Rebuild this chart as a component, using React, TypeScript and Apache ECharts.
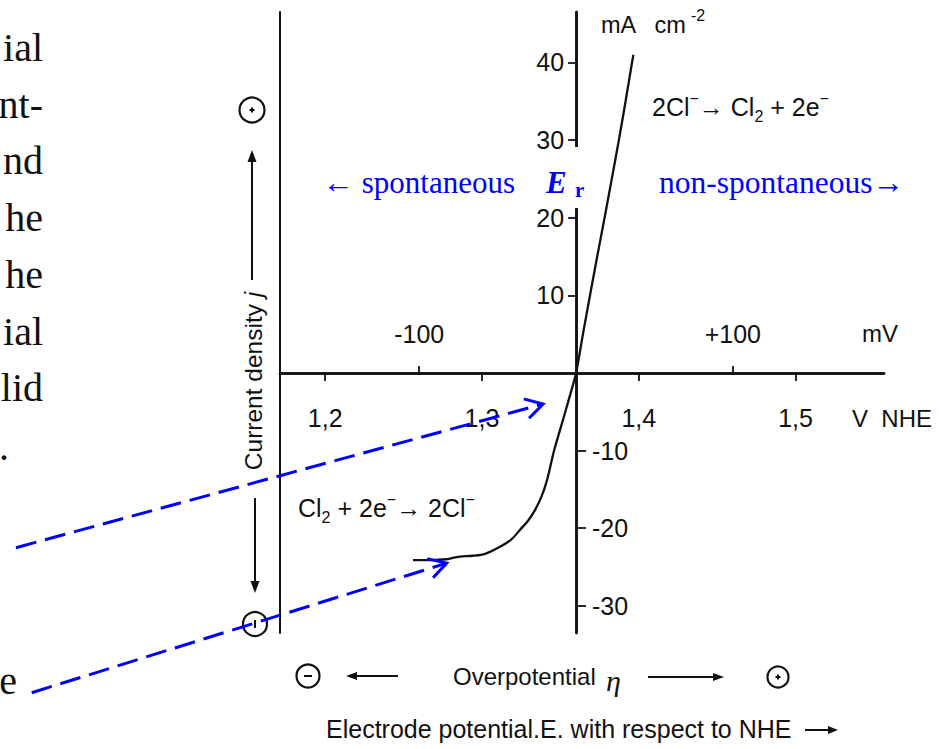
import React, { useEffect, useRef } from "react";
import * as echarts from "echarts";

// ---------- Data ----------
// Overpotential η (mV) and current density j (mA cm⁻²) along the Cl2/Cl⁻ polarisation curve
const overpotentialMV = [-104, -92, -83, -78, -74, -66, -58, -48.5, -41, -35.7, -30.5, -26, -22, -18.5, -14, -10, -5, 0, 4.4, 8.9, 13.5, 18.2, 22.8, 27.3, 31.6, 35.7, 36.6];
const currentDensity = [-24.1, -24.1, -24.0, -23.8, -23.65, -23.55, -23.3, -22.4, -21.4, -20.2, -19.0, -17.6, -15.9, -13.8, -10.0, -7.2, -3.7, 0, 5, 10, 15, 20, 25, 30, 35, 40, 41];

const reversiblePotentialV = 1.36; // E_r of Cl2/Cl⁻ vs NHE
const mvTicks = [-100, 100];
const voltTicks = [1.2, 1.3, 1.4, 1.5];
const positiveJTicks = [10, 20, 30, 40];
const negativeJTicks = [-10, -20, -30];
const mvRange = [-188.8, 196.4];
const jRange = [-33.5, 46.5];
// blue arrow targets (mV, mA cm⁻²)
const erArrowTarget = [-21, -4];
const limitArrowTarget = [-82.5, -24.5];
// fragments of the slide text cut off at the left edge
const sideTextLines = ["ial", "nt-", "nd", "he", "he", "ial", "lid"];

const FIG = "'Liberation Sans', Arial, Helvetica, sans-serif";
const SERIF = "'Liberation Serif', 'Times New Roman', serif";
const BLUE = "#0000ff";
const BLACK = "#111111";

const W = 945, H = 749;
const GRID = { left: 280, right: 61, top: 12, bottom: 116 };

const labelStyle = { color: BLACK, fontFamily: FIG, fontSize: 25 };

function buildOption(): any {
  const plotW = W - GRID.left - GRID.right;
  const plotH = H - GRID.top - GRID.bottom;
  const zeroX = GRID.left + ((0 - mvRange[0]) / (mvRange[1] - mvRange[0])) * plotW;
  const zeroY = GRID.top + ((jRange[1] - 0) / (jRange[1] - jRange[0])) * plotH;
  const vMin = reversiblePotentialV + mvRange[0] / 1000;
  const vMax = reversiblePotentialV + mvRange[1] / 1000;
  const lineStyle = { color: BLACK, width: 2.5 };
  const tickStyle = { color: BLACK, width: 1.8 };
  return {
    animation: false,
    grid: { ...GRID, containLabel: false, outerBoundsMode: "none" },
    xAxis: [
      {
        type: "value", position: "top", min: mvRange[0], max: mvRange[1],
        offset: GRID.top - zeroY,
        axisLine: { show: true, onZero: false, lineStyle },
        axisTick: { show: true, customValues: mvTicks, length: 7, lineStyle: tickStyle },
        axisLabel: {
          customValues: mvTicks, margin: 26,
          formatter: (v: number) => (v > 0 ? "+" + v : "-" + Math.abs(v)),
          ...labelStyle,
        },
        splitLine: { show: false },
      },
      {
        type: "value", position: "bottom", min: vMin, max: vMax,
        offset: zeroY - (GRID.top + plotH),
        axisLine: { show: true, onZero: false, lineStyle },
        axisTick: { show: true, customValues: voltTicks, length: 8, lineStyle: tickStyle },
        axisLabel: {
          customValues: voltTicks, margin: 33,
          formatter: (v: number) => v.toFixed(1).replace(".", ","),
          ...labelStyle,
        },
        splitLine: { show: false },
      },
    ],
    yAxis: [
      {
        type: "value", position: "left", min: jRange[0], max: jRange[1],
        offset: GRID.left - zeroX,
        axisLine: { show: true, onZero: false, lineStyle },
        axisTick: { show: true, customValues: positiveJTicks, length: 8, lineStyle: tickStyle },
        axisLabel: { customValues: positiveJTicks, margin: 12, ...labelStyle },
        splitLine: { show: false },
      },
      {
        type: "value", position: "right", min: jRange[0], max: jRange[1],
        offset: zeroX - (GRID.left + plotW),
        axisLine: { show: true, onZero: false, lineStyle },
        axisTick: { show: true, customValues: negativeJTicks, length: 10, lineStyle: tickStyle },
        axisLabel: {
          customValues: negativeJTicks, margin: 16,
          formatter: (v: number) => "-" + Math.abs(v),
          ...labelStyle,
        },
        splitLine: { show: false },
      },
      {
        type: "value", position: "left", min: jRange[0], max: jRange[1],
        offset: 0,
        axisLine: { show: true, onZero: false, lineStyle: { color: BLACK, width: 2 } },
        axisTick: { show: false },
        axisLabel: { show: false },
        splitLine: { show: false },
      },
    ],
    series: [
      {
        type: "line",
        xAxisIndex: 0,
        yAxisIndex: 0,
        data: overpotentialMV.map((x, i) => [x, currentDensity[i]]),
        symbol: "none",
        showSymbol: false,
        smooth: 0.3,
        silent: true,
        lineStyle: { color: BLACK, width: 2.3 },
      },
    ],
  };
}

function txt(x: number, y: number, text: string, style: any = {}, extra: any = {}) {
  const align = style.align || "left";
  const va = style.verticalAlign || "middle";
  return {
    type: "text", x, y, z: 10, ...extra,
    style: {
      text, fill: BLACK, fontFamily: FIG, fontSize: 24,
      ...style,
      align, textAlign: align, verticalAlign: va, textVerticalAlign: va,
    },
  };
}

function seg(x1: number, y1: number, x2: number, y2: number, color = BLACK, width = 2, dash?: number[]) {
  return {
    type: "line", z: 10,
    shape: { x1, y1, x2, y2 },
    style: { stroke: color, lineWidth: width, lineDash: dash || null, fill: null },
  };
}

function arrow(x1: number, y1: number, x2: number, y2: number, headLen = 11, half = 4, width = 2) {
  const dx = x2 - x1, dy = y2 - y1, L = Math.hypot(dx, dy);
  const ux = dx / L, uy = dy / L;
  const bx = x2 - ux * headLen, by = y2 - uy * headLen;
  return [
    seg(x1, y1, bx + ux * 2, by + uy * 2, BLACK, width),
    {
      type: "polygon", z: 10,
      shape: { points: [[x2, y2], [bx - uy * half, by + ux * half], [bx + uy * half, by - ux * half]] },
      style: { fill: BLACK },
    },
  ];
}

function blueArrow(x1: number, y1: number, x2: number, y2: number) {
  const dx = x2 - x1, dy = y2 - y1, L = Math.hypot(dx, dy);
  const bx = -dx / L, by = -dy / L;
  const len = 20, c = Math.cos(Math.PI / 6), s = Math.sin(Math.PI / 6);
  const w1 = [x2 + len * (bx * c - by * s), y2 + len * (bx * s + by * c)];
  const w2 = [x2 + len * (bx * c + by * s), y2 + len * (-bx * s + by * c)];
  return [
    seg(x1, y1, x2, y2, BLUE, 3, [21, 9]),
    {
      type: "polyline", z: 11,
      shape: { points: [w1, [x2, y2], w2] },
      style: { stroke: BLUE, lineWidth: 3, fill: null },
    },
  ];
}

function circled(cx: number, cy: number, r: number, sign: "+" | "-" | "|") {
  const els: any[] = [
    { type: "circle", z: 10, shape: { cx, cy, r }, style: { stroke: BLACK, lineWidth: 2.2, fill: null } },
  ];
  if (sign === "+") {
    els.push(seg(cx - 2.5, cy, cx + 2.5, cy, BLACK, 2));
    els.push(seg(cx, cy - 2.5, cx, cy + 2.5, BLACK, 2));
  } else if (sign === "-") {
    els.push(seg(cx - 4, cy, cx + 4, cy, BLACK, 2));
  } else {
    els.push(seg(cx, cy - 4, cx, cy + 4, BLACK, 2));
  }
  return els;
}

export default function App() {
  const ref = useRef<HTMLDivElement>(null);
  useEffect(() => {
    if (!ref.current) return;
    const chart = echarts.init(ref.current, null, { renderer: "svg" });
    chart.setOption(buildOption());
    const finder = { xAxisIndex: 0, yAxisIndex: 0 };
    const tip1 = chart.convertToPixel(finder, erArrowTarget) as number[];
    const tip2 = chart.convertToPixel(finder, limitArrowTarget) as number[];

    const els: any[] = [];
    // slide text fragments at the left edge
    sideTextLines.forEach((w, i) => {
      els.push(txt(43, 47.5 + i * 56.7, w, { fontFamily: SERIF, fontSize: 40, align: "right" }));
    });
    els.push(txt(9, 446, ".", { fontFamily: SERIF, fontSize: 40, align: "right" }));
    els.push(txt(17, 680, "e", { fontFamily: SERIF, fontSize: 40, align: "right" }));

    // vertical axis title with polarity marks
    els.push(...circled(252, 110, 12.5, "+"));
    els.push(...arrow(252, 280, 252, 150, 12, 4.5));
    els.push(
      txt(253, 381, "Current density {i|j}", {
        align: "center", fontSize: 24.5,
        rich: { i: { fontStyle: "italic", fontFamily: FIG, fontSize: 24.5, fill: BLACK } },
      }, { rotation: Math.PI / 2 })
    );
    els.push(...arrow(255, 498, 255, 593, 12, 4.5));
    els.push(...circled(255, 624, 12, "|"));

    // overpotential row
    els.push(...circled(308, 676, 11.5, "-"));
    els.push(...arrow(398, 676, 346, 676, 11, 4));
    els.push(txt(453, 676, "Overpotential", { fontSize: 24 }));
    els.push(txt(606, 680, "η", { fontFamily: SERIF, fontStyle: "italic", fontSize: 30 }));
    els.push(...arrow(648, 677, 724, 677, 11, 4));
    els.push(...circled(778, 677, 10.5, "+"));

    // electrode potential caption
    els.push(txt(326, 729, "Electrode potential.E. with respect to NHE", { fontSize: 25 }));
    els.push(...arrow(805, 730, 838, 730, 10, 4));

    // units
    els.push(txt(601, 25, "mA   cm", { fontSize: 23.5 }));
    els.push(txt(691, 15, "-2", { fontSize: 16 }));
    els.push(txt(862, 333, "mV", { fontSize: 24 }));
    els.push(txt(852, 418, "V  NHE", { fontSize: 24 }));

    // reactions
    const rich = {
      n: { fontFamily: FIG, fontSize: 25, lineHeight: 34, fill: BLACK },
      sp: { fontFamily: FIG, fontSize: 16, lineHeight: 16, verticalAlign: "top", fill: BLACK },
      sb: { fontFamily: FIG, fontSize: 16, lineHeight: 16, verticalAlign: "bottom", fill: BLACK },
    };
    els.push(txt(652, 107, "{n|2Cl}{sp|−}{n|→ Cl}{sb|2}{n| + 2e}{sp|−}", { rich }));
    els.push(txt(298, 508, "{n|Cl}{sb|2}{n| + 2e}{sp|−}{n|→ 2Cl}{sp|−}", { rich }));

    // blue annotations (white mask breaks the current axis behind E_r)
    els.push({ type: "rect", z: 9, shape: { x: 567, y: 147, width: 24, height: 61 }, style: { fill: "#ffffff" } });
    els.push(txt(323, 182, "← spontaneous", { fontFamily: SERIF, fontSize: 31, fill: BLUE }));
    els.push(txt(546, 182, "E", { fontFamily: SERIF, fontSize: 31, fontWeight: "bold", fontStyle: "italic", fill: BLUE }));
    els.push(txt(575, 190, "r", { fontFamily: SERIF, fontSize: 21, fontWeight: "bold", fill: BLUE }));
    els.push(txt(659, 182, "non-spontaneous→", { fontFamily: SERIF, fontSize: 31.5, fill: BLUE }));

    els.push(...blueArrow(16, 547.7, tip1[0], tip1[1]));
    els.push(...blueArrow(31.7, 692.7, tip2[0], tip2[1]));

    chart.setOption({ graphic: { elements: els } });
    return () => chart.dispose();
  }, []);
  return (
    <div
      ref={ref}
      style={{ position: "absolute", left: 0, top: 0, width: W, height: H, background: "#fff" }}
    />
  );
}
